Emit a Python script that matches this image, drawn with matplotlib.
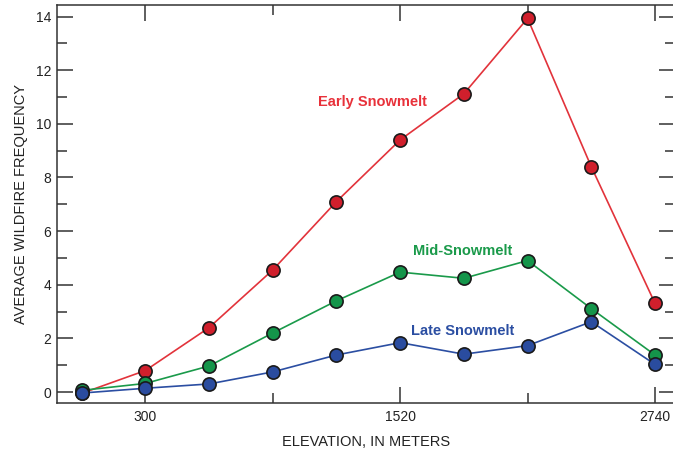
import matplotlib
matplotlib.use("Agg")
import matplotlib.pyplot as plt
from matplotlib.ticker import FixedLocator

plt.rcParams['font.family'] = ['Liberation Sans', 'DejaVu Sans']

elevation = [-5, 300, 605, 910, 1215, 1520, 1825, 2130, 2435, 2740]
early = [-0.05, 0.8, 2.4, 4.55, 7.1, 9.4, 11.12, 13.93, 8.4, 3.31]
mid = [0.06, 0.32, 0.97, 2.2, 3.4, 4.47, 4.24, 4.9, 3.11, 1.38]
late = [-0.04, 0.14, 0.3, 0.75, 1.38, 1.84, 1.41, 1.73, 2.62, 1.03]

x_major = [300, 1520, 2740]
x_minor = [910, 2130]
y_major = [0, 2, 4, 6, 8, 10, 12, 14]
y_minor = [1, 3, 5, 7, 9, 11, 13]

series = [
    ("Early Snowmelt", early, "#e2333b", "#d01f2c", "#e8313a", (1385, 10.8)),
    ("Mid-Snowmelt", mid, "#1a9a4a", "#14954a", "#1a9a4a", (1818, 5.25)),
    ("Late Snowmelt", late, "#2b4ea2", "#2a4c9f", "#2b4ea2", (1818, 2.27)),
]

fig = plt.figure(figsize=(6.73, 4.5), dpi=100)
ax = fig.add_axes([57/673, 1 - 403/450, 1.003 - 57/673, 398/450])

for name, vals, lc, fc, tc, pos in series:
    ax.plot(elevation, vals, color=lc, lw=1.2, zorder=2)
    ax.plot(elevation, vals, ls='none', marker='o', ms=9.5, mfc=fc,
            mec='#1a1a1a', mew=1.2, zorder=3)
    ax.text(pos[0], pos[1], name, color=tc, fontsize=10.5,
            fontweight='bold', ha='center', va='center')

ax.set_xlim(-123, 2836)
ax.set_ylim(-0.41, 14.43)

ax.xaxis.set_major_locator(FixedLocator(x_major))
ax.xaxis.set_minor_locator(FixedLocator(x_minor))
ax.yaxis.set_major_locator(FixedLocator(y_major))
ax.yaxis.set_minor_locator(FixedLocator(y_minor))
ax.set_xticklabels([str(v) for v in x_major])
ax.set_yticklabels([str(v) for v in y_major])

ax.tick_params(which='both', direction='in', top=True, right=True,
               color='#333333', width=1.1, labelsize=10, labelcolor='#222222')
ax.tick_params(which='major', length=11.5)
ax.tick_params(which='minor', length=7.5)
ax.tick_params(axis='x', pad=5)
ax.tick_params(axis='y', pad=4)

for s in ax.spines.values():
    s.set_color('#333333')
    s.set_linewidth(1.1)

ax.set_xlabel("ELEVATION, IN METERS", fontsize=10.5, color='#222222', labelpad=8)
ax.set_ylabel("AVERAGE WILDFIRE FREQUENCY", fontsize=10.5, color='#222222', labelpad=6)

fig.savefig("out.png", dpi=100)
